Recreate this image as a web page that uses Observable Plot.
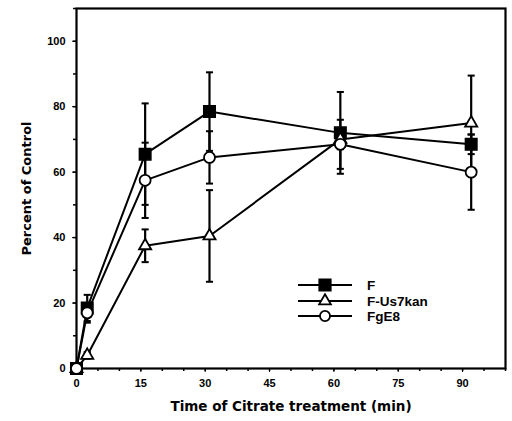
<!DOCTYPE html>
<html>
<head>
<meta charset="utf-8">
<script src="https://cdn.jsdelivr.net/npm/d3@7"></script>
<script src="https://cdn.jsdelivr.net/npm/@observablehq/plot@0.6"></script>
<style>
  html, body { margin: 0; padding: 0; background: #fff; }
  #wrap { position: relative; width: 512px; height: 421px; font-family: "Liberation Sans", Arial, sans-serif; }
  #legend { position: absolute; left: 0; top: 0; pointer-events: none; }
</style>
</head>
<body>
<div id="wrap"></div>
<script>
// ---- data ----
const times   = [0, 2.5, 16, 31, 61.5, 92];
const seriesNames = ["F", "F-Us7kan", "FgE8"];
const valF    = [0, 18.5, 65.5, 78.5, 72, 68.5];
const valUs   = [0, 4, 37.5, 40.5, 70, 75];
const valFg   = [0, 17, 57.5, 64.5, 68.5, 60];
const errF    = [0, 4, 15.5, 12, 12.5, 3];
const errUs   = [0, 1, 5, 14, 3, 14.5];
const errFg   = [0, 3, 11.5, 8, 7.5, 11.5];
const xTicks  = [0, 15, 30, 45, 60, 75, 90];
const yTicks  = [0, 20, 40, 60, 80, 100];
const xLabel  = "Time of Citrate treatment (min)";
const yLabel  = "Percent of Control";

const vals = [valF, valUs, valFg];
const errs = [errF, errUs, errFg];
const rows = [];
seriesNames.forEach((s, i) => times.forEach((t, j) => rows.push({
  series: s, t, v: vals[i][j], lo: vals[i][j] - errs[i][j], hi: vals[i][j] + errs[i][j], e: errs[i][j]
})));
const withErr = rows.filter(d => d.e > 0);

const capSymbol = {
  draw(ctx, size) { const w = Math.sqrt(size) / 2; ctx.moveTo(-w, 0); ctx.lineTo(w, 0); }
};

const labelFont = "DejaVu Sans, Liberation Sans, Arial, sans-serif";

const chart = Plot.plot({
  width: 512,
  height: 421,
  marginLeft: 76,
  marginRight: 7,
  marginTop: 8,
  marginBottom: 53,
  style: { fontFamily: "Liberation Sans, Arial, sans-serif", fontWeight: "bold", fontSize: "11px", color: "#000", background: "#fff" },
  x: { domain: [0, 100], ticks: xTicks, label: null },
  y: { domain: [0, 110], ticks: yTicks, label: null },
  marks: [
    Plot.axisX({ticks: d3.range(0, 101, 5), tickSize: 3, text: null, strokeWidth: 1.5}),
    Plot.axisX({ticks: xTicks, tickSize: 4, tickPadding: 7, fontSize: 11, fontWeight: "bold", label: null}),
    Plot.axisX({ticks: [], label: xLabel, labelAnchor: "center", labelArrow: "none", labelOffset: 42,
      fontSize: 13.5, fontWeight: "bold", fontFamily: labelFont}),
    Plot.axisY({ticks: d3.range(0, 111, 10), tickSize: 3, text: null, strokeWidth: 1.5}),
    Plot.axisY({ticks: yTicks, tickSize: 4, tickPadding: 7, fontSize: 11, fontWeight: "bold", label: null}),
    Plot.axisY({ticks: [], label: yLabel, labelAnchor: "center", labelArrow: "none", labelOffset: 55,
      fontSize: 13, fontWeight: "bold", fontFamily: labelFont}),
    Plot.frame({stroke: "#000", strokeWidth: 2.2}),
    Plot.line(rows, {x: "t", y: "v", z: "series", stroke: "#000", strokeWidth: 2}),
    Plot.ruleX(withErr, {x: "t", y1: "lo", y2: "hi", stroke: "#000", strokeWidth: 2.2}),
    Plot.dot(withErr, {x: "t", y: "hi", symbol: capSymbol, r: 4, stroke: "#000", strokeWidth: 2}),
    Plot.dot(withErr, {x: "t", y: "lo", symbol: capSymbol, r: 4, stroke: "#000", strokeWidth: 2}),
    Plot.dot(rows.filter(d => d.series === "F"), {x: "t", y: "v", symbol: "square", r: 6.5, fill: "#000", stroke: "#000"}),
    Plot.dot(rows.filter(d => d.series === "F-Us7kan"), {x: "t", y: "v", symbol: "triangle", r: 4.5, fill: "#fff", stroke: "#000", strokeWidth: 1.8}),
    Plot.dot(rows.filter(d => d.series === "FgE8"), {x: "t", y: "v", symbol: "circle", r: 5.5, fill: "#fff", stroke: "#000", strokeWidth: 1.8})
  ]
});
document.getElementById("wrap").appendChild(chart);

// legend overlay
const lg = d3.select("#wrap").append("svg").attr("id", "legend").attr("width", 512).attr("height", 421);
const ly = [285, 301, 316];
seriesNames.forEach((s, i) => {
  const g = lg.append("g").attr("transform", `translate(0,${ly[i]})`);
  g.append("line").attr("x1", 298).attr("x2", 352).attr("y1", 0).attr("y2", 0).attr("stroke", "#000").attr("stroke-width", 2);
  const sym = s === "F" ? d3.symbolSquare : s === "F-Us7kan" ? d3.symbolTriangle : d3.symbolCircle;
  const size = s === "F" ? 130 : s === "F-Us7kan" ? 60 : 80;
  g.append("path").attr("d", d3.symbol(sym, size)()).attr("transform", "translate(325,0)")
    .attr("fill", s === "F" ? "#000" : "#fff").attr("stroke", "#000").attr("stroke-width", 1.8);
  g.append("text").attr("x", 367).attr("y", 5).text(s)
    .attr("font-family", "Liberation Sans, Arial, sans-serif").attr("font-weight", "bold").attr("font-size", 13.5).attr("fill", "#000");
});
</script>
</body>
</html>
